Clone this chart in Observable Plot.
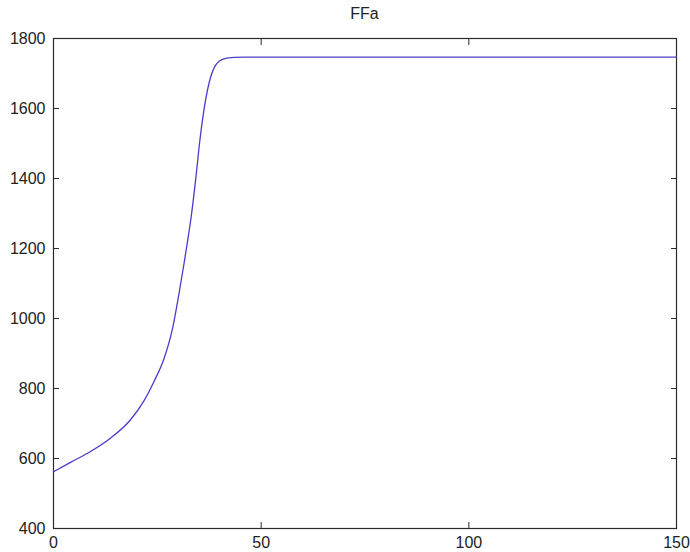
<!DOCTYPE html>
<html>
<head>
<meta charset="utf-8">
<script src="https://cdn.jsdelivr.net/npm/d3@7"></script>
<script src="https://cdn.jsdelivr.net/npm/@observablehq/plot@0.6"></script>
<style>
  html, body { margin: 0; padding: 0; background: #fff; }
  #chart { position: relative; width: 690px; height: 552px; }
  #title { position: absolute; left: 0; width: 690px; top: 5px; text-align: center;
           font-family: "Liberation Sans", Arial, sans-serif; font-size: 16px; color: #222;
           padding-left: 39px; box-sizing: border-box; }
  #chart svg { position: absolute; left: 0; top: 0; }
</style>
</head>
<body>
<div id="chart"><div id="title">FFa</div></div>
<script>
const title = "FFa";
const tValues = [0, 4.1, 8.9, 13.7, 18.5, 21.7, 24.2, 26.6, 28.6, 30.2, 31.4, 32.2, 33.2, 34.2, 35.3, 36.2, 37.4, 39, 41, 43.5, 46, 150];
const ffaValues = [562, 589, 620, 658, 710, 763, 820, 885, 968, 1070, 1155, 1215, 1295, 1394, 1515, 1594, 1670, 1723, 1742, 1746, 1747, 1747];
const xTicks = [0, 50, 100, 150];
const yTicks = [400, 600, 800, 1000, 1200, 1400, 1600, 1800];

const data = tValues.map((t, i) => ({t, v: ffaValues[i]}));
const font = "Liberation Sans, Arial, sans-serif";
const axisColor = "#2a2a2a";
const fmt = d3.format("d");

const chart = Plot.plot({
  width: 690,
  height: 552,
  marginLeft: 53,
  marginRight: 14,
  marginTop: 38,
  marginBottom: 24,
  style: {fontFamily: font, fontSize: "16px", color: "#222", background: "transparent"},
  x: {domain: [0, 150], ticks: xTicks},
  y: {domain: [400, 1800], ticks: yTicks},
  marks: [
    Plot.frame({stroke: axisColor, strokeWidth: 1.2}),
    Plot.axisY(yTicks, {anchor: "left", tickSize: -6, tickPadding: 14, tickFormat: fmt, stroke: axisColor, label: null, fill: "#222"}),
    Plot.axisY(yTicks, {anchor: "right", tickSize: -6, tickFormat: () => "", stroke: axisColor, label: null}),
    Plot.axisX(xTicks, {anchor: "bottom", tickSize: -6, tickPadding: 14, tickFormat: fmt, stroke: axisColor, label: null, fill: "#222"}),
    Plot.axisX(xTicks, {anchor: "top", tickSize: -6, tickFormat: () => "", stroke: axisColor, label: null}),
    Plot.line(data, {x: "t", y: "v", stroke: "#4a3cc8", strokeWidth: 1.3, curve: "monotone-x"})
  ]
});
document.getElementById("chart").appendChild(chart);
document.getElementById("title").textContent = title;
</script>
</body>
</html>
